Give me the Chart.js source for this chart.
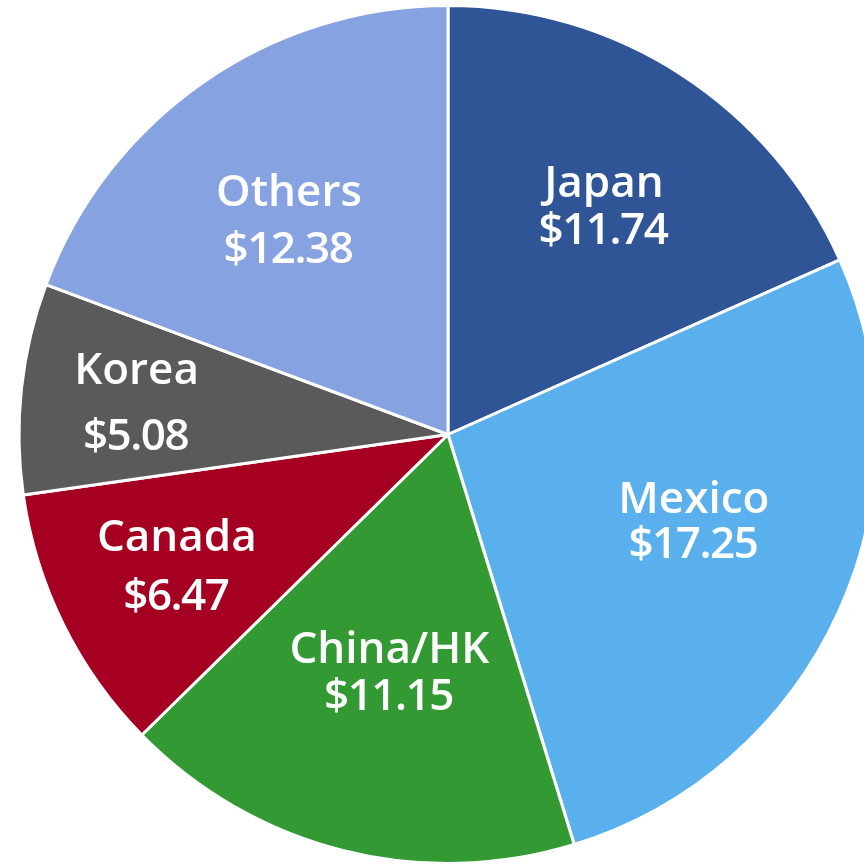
<!DOCTYPE html>
<html>
<head>
<meta charset="utf-8">
<script src="https://cdn.jsdelivr.net/npm/chart.js@4"></script>
<style>
  html, body { margin: 0; padding: 0; background: #fff; overflow: hidden; }
  #wrap { position: absolute; left: 0; top: 0; width: 896px; height: 869px; }
</style>
</head>
<body>
<div id="wrap"><canvas id="pie" width="896" height="869"></canvas></div>
<script>
// values in billions, clockwise from 12 o'clock
const regions = ["Japan", "Mexico", "China/HK", "Canada", "Korea", "Others"];
const amounts = [11.74, 17.25, 11.15, 6.47, 5.08, 12.38];
const sliceColors = ["#2F5597", "#5AB0EC", "#339933", "#A50021", "#5A5A5A", "#86A2E0"];

// where each label sits: [fraction of radius, angle nudge in degrees, gap between the two lines]
const labelSpots = [
  [0.647, 1.2, 47],
  [0.607, -5.2, 45],
  [0.568, -0.3, 47.5],
  [0.702, 0.5, 59],
  [0.730, -0.2, 66],
  [0.625, -1.6, 57]
];

const sliceLabels = {
  id: "sliceLabels",
  afterDatasetsDraw(chart) {
    const ctx = chart.ctx;
    const meta = chart.getDatasetMeta(0);
    ctx.save();
    ctx.fillStyle = "#ffffff";
    ctx.font = "600 44px 'Open Sans'";
    ctx.textAlign = "center";
    ctx.textBaseline = "alphabetic";
    const capH = ctx.measureText("H").actualBoundingBoxAscent;
    meta.data.forEach((arc, i) => {
      const p = arc.getProps(["x", "y", "startAngle", "endAngle", "outerRadius"], true);
      const spot = labelSpots[i];
      const a = (p.startAngle + p.endAngle) / 2 + spot[1] * Math.PI / 180;
      const cx = p.x + Math.cos(a) * p.outerRadius * spot[0];
      const cy = p.y + Math.sin(a) * p.outerRadius * spot[0];
      const half = spot[2] / 2;
      ctx.letterSpacing = "0px";
      ctx.fillText(regions[i], cx, cy - half + capH / 2);
      // digits in Open Sans run wider than the original, pull them in a bit
      ctx.letterSpacing = "-1.5px";
      ctx.fillText("$" + amounts[i].toFixed(2), cx - 1, cy + half + capH / 2);
    });
    ctx.restore();
  }
};

new Chart(document.getElementById("pie"), {
  type: "pie",
  data: {
    labels: regions,
    datasets: [{
      data: amounts,
      backgroundColor: sliceColors,
      borderColor: "#ffffff",
      borderWidth: 3,
      radius: 429
    }]
  },
  options: {
    responsive: false,
    animation: false,
    layout: { padding: 0 },
    plugins: {
      legend: { display: false },
      tooltip: { enabled: false }
    }
  },
  plugins: [sliceLabels]
});
</script>
</body>
</html>
